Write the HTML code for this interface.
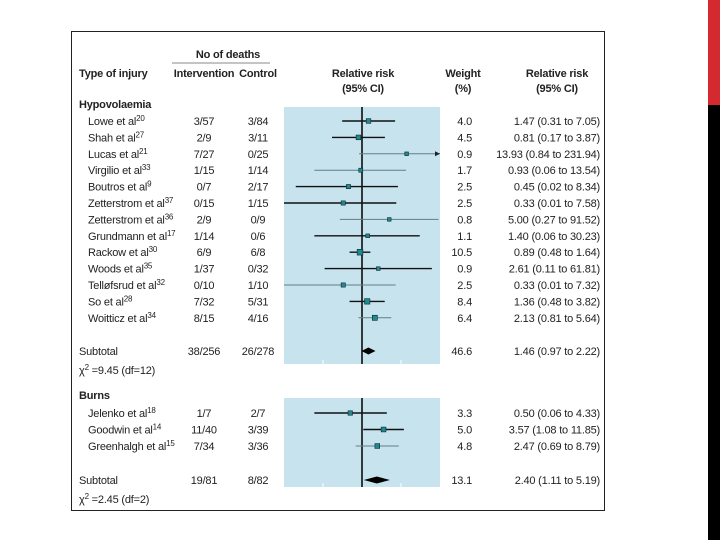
<!DOCTYPE html>
<html><head><meta charset="utf-8"><style>
html,body{margin:0;padding:0;background:#fff;width:720px;height:540px;overflow:hidden}
svg text{font-family:"Liberation Sans Narrow","Liberation Sans",sans-serif;font-size:11px;fill:#222;letter-spacing:-0.2px}
.b{font-weight:bold}
</style></head><body>
<svg width="720" height="540" xmlns="http://www.w3.org/2000/svg">
<rect x="708" y="0" width="12" height="105" fill="#d42a2f"/>
<rect x="708" y="105" width="12" height="435" fill="#000"/>
<rect x="71.5" y="31.5" width="533" height="479" fill="#fff" stroke="#222" stroke-width="1"/>
<g id="hdr">
<text class="b" x="228" y="58" text-anchor="middle">No of deaths</text>
<line x1="172" y1="63" x2="270" y2="63" stroke="#888"/>
<text class="b" x="79" y="77">Type of injury</text>
<text class="b" x="204" y="77" text-anchor="middle">Intervention</text>
<text class="b" x="258" y="77" text-anchor="middle">Control</text>
<text class="b" x="363" y="77" text-anchor="middle">Relative risk</text>
<text class="b" x="363" y="92" text-anchor="middle">(95% CI)</text>
<text class="b" x="463" y="77" text-anchor="middle">Weight</text>
<text class="b" x="463" y="92" text-anchor="middle">(%)</text>
<text class="b" x="557" y="77" text-anchor="middle">Relative risk</text>
<text class="b" x="557" y="92" text-anchor="middle">(95% CI)</text>
<text class="b" x="79" y="108">Hypovolaemia</text>
<text class="b" x="79" y="399">Burns</text>
</g>
<g id="chart"></g>
</svg>
<script>
const names=["Lowe et al","Shah et al","Lucas et al","Virgilio et al","Boutros et al","Zetterstrom et al","Zetterstrom et al","Grundmann et al","Rackow et al","Woods et al","Telløfsrud et al","So et al","Woitticz et al","Jelenko et al","Goodwin et al","Greenhalgh et al"];
const refs=["20","27","21","33","9","37","36","17","30","35","32","28","34","18","14","15"];
const intervention=["3/57","2/9","7/27","1/15","0/7","0/15","2/9","1/14","6/9","1/37","0/10","7/32","8/15","1/7","11/40","7/34"];
const control=["3/84","3/11","0/25","1/14","2/17","1/15","0/9","0/6","6/8","0/32","1/10","5/31","4/16","2/7","3/39","3/36"];
const rr=[1.47,0.81,13.93,0.93,0.45,0.33,5.00,1.40,0.89,2.61,0.33,1.36,2.13,0.50,3.57,2.47];
const lo=[0.31,0.17,0.84,0.06,0.02,0.01,0.27,0.06,0.48,0.11,0.01,0.48,0.81,0.06,1.08,0.69];
const hi=[7.05,3.87,231.94,13.54,8.34,7.58,91.52,30.23,1.64,61.81,7.32,3.82,5.64,4.33,11.85,8.79];
const weights=[4.0,4.5,0.9,1.7,2.5,2.5,0.8,1.1,10.5,0.9,2.5,8.4,6.4,3.3,5.0,4.8];
const thin=[0,0,1,1,0,0,1,0,0,0,1,0,1,0,0,1];
const subLabels=["38/256","19/81"];const subCtrl=["26/278","8/82"];
const subRR=[1.46,2.40];const subLo=[0.97,1.11];const subHi=[2.22,5.19];const subW=[46.6,13.1];
const chi=["=9.45 (df=12)","=2.45 (df=2)"];
const NS="http://www.w3.org/2000/svg";
const g=document.getElementById('chart');
const X=v=>362+39*Math.log10(v);
const xmin=284,xmax=440;
function rowY(i){return i<13?121+i*16.4:413+(i-13)*16.5;}
function el(t,a,txt){const e=document.createElementNS(NS,t);for(const k in a)e.setAttribute(k,a[k]);if(txt!==undefined)e.textContent=txt;g.appendChild(e);return e;}
function fmt(v){return v.toFixed(2);}
const panels=[[107,364],[398,487]];
panels.forEach((p,k)=>{
const r=el('rect',{x:xmin,y:p[0],width:xmax-xmin,height:p[1]-p[0],fill:'#c6e3ee'});


[0.1,10].forEach(t=>{const tk=el('line',{x1:X(t),x2:X(t),y1:p[1]-4,y2:p[1],stroke:'#fff'});

});
const nl=el('line',{x1:X(1),x2:X(1),y1:p[0],y2:p[1],stroke:'#000','stroke-width':1.5});


});
function txt(x,y,s,anchor,name){const t=el('text',{x:x,y:y,'text-anchor':anchor||'start'},s);

return t;}
for(let i=0;i<names.length;i++){
const y=rowY(i);
const t=txt(88,y+4,names[i],'start','study-name');
const sp=document.createElementNS(NS,'tspan');sp.setAttribute('dy','-4');sp.setAttribute('font-size','8');sp.textContent=refs[i];t.appendChild(sp);
txt(204,y+4,intervention[i],'middle','intervention-deaths');
txt(258,y+4,control[i],'middle','control-deaths');
txt(472,y+4,weights[i].toFixed(1),'end','weight-value');
txt(600,y+4,fmt(rr[i])+" ("+fmt(lo[i])+" to "+fmt(hi[i])+")",'end','rr-value');
const x1=Math.max(xmin,X(lo[i])),x2=Math.min(xmax,X(hi[i]));
const l=el('line',{x1:x1,x2:x2,y1:y,y2:y,stroke:thin[i]?'#5f7f88':'#111','stroke-width':thin[i]?1:1.4});


if(X(hi[i])>xmax){const a=el('path',{d:`M${xmax} ${y}l-5 -2.5v5z`,fill:'#222'});

}
const s=2.8+Math.sqrt(weights[i])*0.9;
const b=el('rect',{x:X(rr[i])-s/2,y:y-s/2,width:s,height:s,fill:'#1f8c8c',stroke:'#123','stroke-width':0.6});


}
const subY=[351,480],chiY=[374,503];
for(let k=0;k<2;k++){
const y=subY[k];
txt(79,y+4,'Subtotal','start','subtotal-label');
txt(204,y+4,subLabels[k],'middle','subtotal-intervention');
txt(258,y+4,subCtrl[k],'middle','subtotal-control');
txt(472,y+4,subW[k].toFixed(1),'end','subtotal-weight');
txt(600,y+4,fmt(subRR[k])+" ("+fmt(subLo[k])+" to "+fmt(subHi[k])+")",'end','subtotal-rr');
const d=el('path',{d:`M${X(subLo[k])} ${y}L${X(subRR[k])} ${y-3.5}L${X(subHi[k])} ${y}L${X(subRR[k])} ${y+3.5}Z`,fill:'#000'});


const c=txt(79,chiY[k],'χ','start','heterogeneity-stat');
const sp=document.createElementNS(NS,'tspan');sp.setAttribute('dy','-4');sp.setAttribute('font-size','8');sp.textContent='2';c.appendChild(sp);
const sp2=document.createElementNS(NS,'tspan');sp2.setAttribute('dy','4');sp2.textContent=' '+chi[k];c.appendChild(sp2);
}
</script>
</body></html>
